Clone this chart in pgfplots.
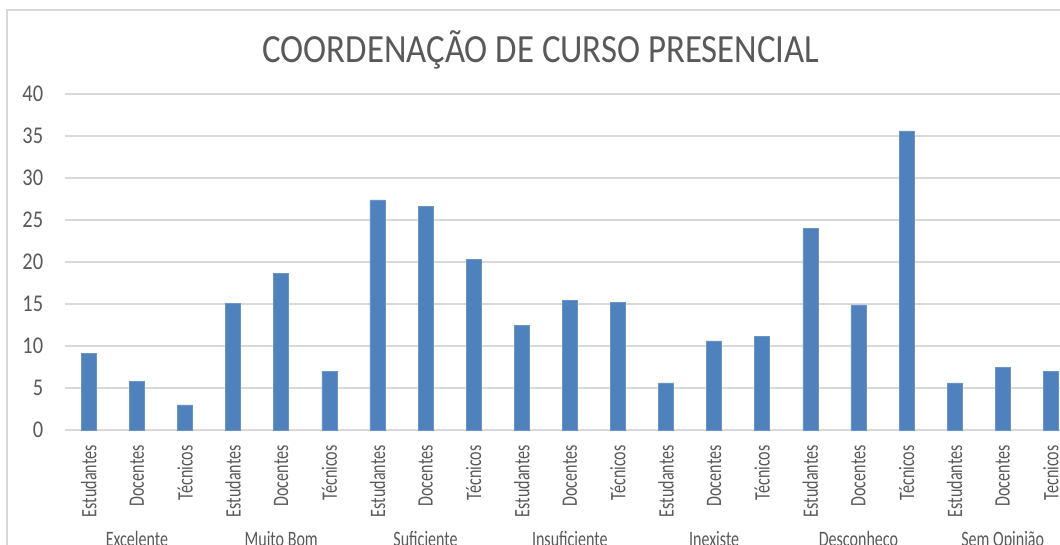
\documentclass[border=0pt]{standalone}
\usepackage{pgfplots}
\pgfplotsset{compat=1.18}
\usepackage{fontspec}
\setmainfont{Carlito}
\newfontfamily\titlefont[FakeStretch=0.87]{Carlito}
\newfontfamily\tickfont[FakeStretch=0.85]{Carlito}
\newfontfamily\labfont[FakeStretch=0.73]{Carlito}
\definecolor{barblue}{HTML}{4F81BD}
\definecolor{gridgray}{HTML}{D9D9D9}
\definecolor{textgray}{HTML}{595959}
\begin{document}
\begin{tikzpicture}[x=1pt,y=1pt]
\path[use as bounding box] (0,0) rectangle (1060,544);
\clip (0,0) rectangle (1060,544);
\fill[white] (0,0) rectangle (1060,544);
\draw[gridgray, line width=1.2pt] (7,-20) -- (7,534) -- (1080,534);
\node[anchor=base, text=textgray, font={\titlefont\fontsize{40}{48}\selectfont}] at (541,481) {COORDENAÇÃO DE CURSO PRESENCIAL};
\begin{axis}[
  at={(64.8pt,114pt)}, anchor=south west,
  scale only axis, width=1010.1pt, height=336pt,
  xmin=-0.5, xmax=20.5, ymin=0, ymax=40,
  clip=false,
  ybar, bar width=15pt,
  axis lines*=left,
  y axis line style={draw=none},
  x axis line style={draw=gridgray, line width=1.2pt, -},
  ytick={0,5,...,40},
  /pgf/number format/assume math mode=true,
  ymajorgrids, grid style={gridgray, line width=1.2pt},
  ytick style={draw=none},
  yticklabel style={anchor=east, inner sep=0pt, xshift=-21.5pt, text=textgray, font={\tickfont\fontsize{24}{28}\selectfont}},
  xtick={0,...,20},
  xticklabels={Estudantes,Docentes,Técnicos,Estudantes,Docentes,Técnicos,Estudantes,Docentes,Técnicos,Estudantes,Docentes,Técnicos,Estudantes,Docentes,Técnicos,Estudantes,Docentes,Técnicos,Estudantes,Docentes,Tecnicos},
  xtick style={draw=none},
  xticklabel style={rotate=90, anchor=east, inner sep=0pt, text=textgray, font={\labfont\fontsize{22}{26}\selectfont}},
  xticklabel shift=11pt,
  extra x ticks={-0.5,2.5,5.5,8.5,11.5,14.5,17.5,20.5},
  extra x tick labels={},
  extra x tick style={grid=none, tick align=outside, major tick length=140pt, tick style={draw=gridgray, line width=1.2pt}},
]
\addplot[fill=barblue, draw=barblue!85!white, line width=0.6pt] table[x=x,y=y] {
x y
0 9.1
1 5.8
2 3.0
3 15.1
4 18.6
5 7.0
6 27.4
7 26.6
8 20.3
9 12.5
10 15.4
11 15.2
12 5.6
13 10.6
14 11.1
15 24.0
16 14.9
17 35.6
18 5.6
19 7.5
20 7.0
};
\begin{scope}[every node/.style={anchor=base, text=textgray, font={\labfont\fontsize{22}{26}\selectfont}}]
\node at (axis cs:1,0) [yshift=-116pt] {Excelente};
\node at (axis cs:4,0) [yshift=-116pt] {Muito Bom};
\node at (axis cs:7,0) [yshift=-116pt] {Suficiente};
\node at (axis cs:10,0) [yshift=-116pt] {Insuficiente};
\node at (axis cs:13,0) [yshift=-116pt] {Inexiste};
\node at (axis cs:16,0) [yshift=-116pt] {Desconheço};
\node at (axis cs:19,0) [yshift=-116pt] {Sem Opinião};
\end{scope}
\end{axis}
\end{tikzpicture}
\end{document}
